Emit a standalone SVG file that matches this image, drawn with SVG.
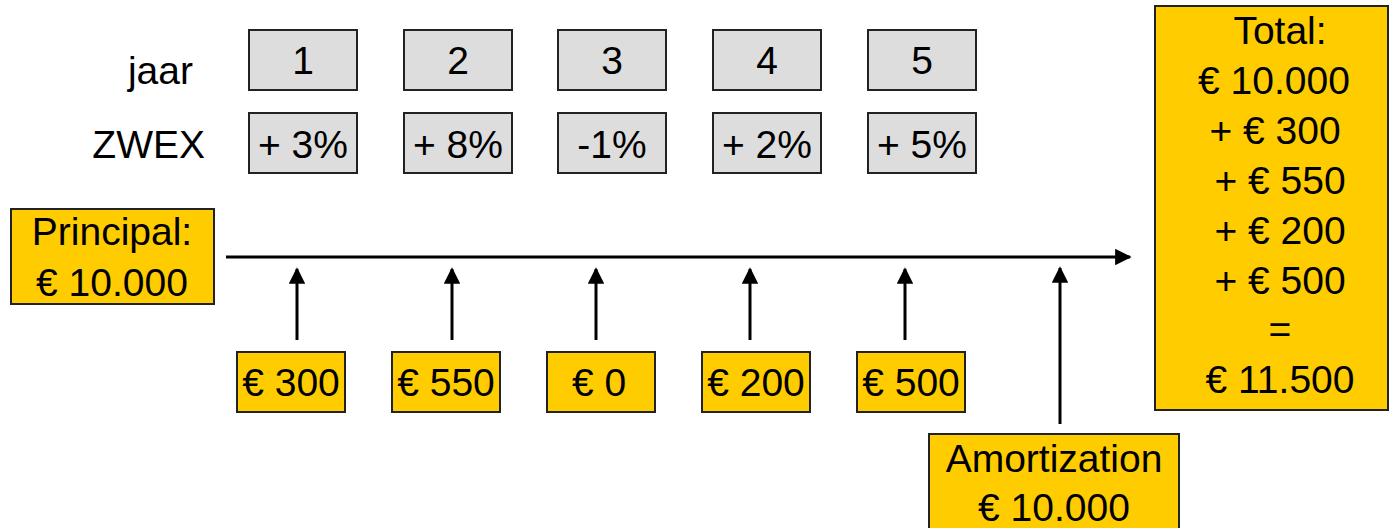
<svg xmlns="http://www.w3.org/2000/svg" width="1389" height="528" viewBox="0 0 1389 528">
<style>
text{font-family:"Liberation Sans",Arial,sans-serif;font-size:39px;fill:#000;text-anchor:middle}
.g{fill:#dddddd;stroke:#222;stroke-width:2}
.y{fill:#ffcc00;stroke:#222;stroke-width:2}
.c{stroke:#000;stroke-width:3;fill:none}
.lbl{text-anchor:end}
</style>
<defs>
<marker id="ah" viewBox="0 0 10 10" refX="9" refY="5" markerWidth="5.5" markerHeight="5.5" orient="auto">
<path d="M0,0 L10,5 L0,10 z" fill="#000"/>
</marker>
</defs>
<rect width="1389" height="528" fill="#fff"/>
<g id="labels">
<text class="lbl" x="193" y="84">jaar</text>
<text class="lbl" x="205" y="158">ZWEX</text>
</g>
<g id="year1"><rect class="g" x="249" y="30" width="108" height="60"/><text x="303" y="74">1</text></g>
<g id="year2"><rect class="g" x="404" y="30" width="108" height="60"/><text x="458" y="74">2</text></g>
<g id="year3"><rect class="g" x="558" y="30" width="108" height="60"/><text x="612" y="74">3</text></g>
<g id="year4"><rect class="g" x="713" y="30" width="108" height="60"/><text x="767" y="74">4</text></g>
<g id="year5"><rect class="g" x="868" y="30" width="108" height="60"/><text x="922" y="74">5</text></g>
<g id="zwex1"><rect class="g" x="249" y="113" width="108" height="60"/><text x="303" y="158">+ 3%</text></g>
<g id="zwex2"><rect class="g" x="404" y="113" width="108" height="60"/><text x="458" y="158">+ 8%</text></g>
<g id="zwex3"><rect class="g" x="558" y="113" width="108" height="60"/><text x="612" y="158">-1%</text></g>
<g id="zwex4"><rect class="g" x="713" y="113" width="108" height="60"/><text x="767" y="158">+ 2%</text></g>
<g id="zwex5"><rect class="g" x="868" y="113" width="108" height="60"/><text x="922" y="158">+ 5%</text></g>
<g id="principal"><rect class="y" x="11" y="209" width="203" height="95"/><text x="112" y="245">Principal:</text><text x="112" y="296">€ 10.000</text></g>
<g id="coupon1"><rect class="y" x="237" y="352" width="108" height="60"/><text x="291" y="396">€ 300</text></g>
<g id="coupon2"><rect class="y" x="392" y="352" width="108" height="60"/><text x="446" y="396">€ 550</text></g>
<g id="coupon3"><rect class="y" x="547" y="352" width="108" height="60"/><text x="599" y="396">€ 0</text></g>
<g id="coupon4"><rect class="y" x="702" y="352" width="108" height="60"/><text x="756" y="396">€ 200</text></g>
<g id="coupon5"><rect class="y" x="857" y="352" width="108" height="60"/><text x="911" y="396">€ 500</text></g>
<g id="amortization"><rect class="y" x="929" y="434" width="250" height="100"/><text x="1054" y="472">Amortization</text><text x="1054" y="521">€ 10.000</text></g>
<g id="total"><rect class="y" x="1155" y="6" width="233" height="404"/>
<text x="1280" y="44">Total:</text>
<text x="1274" y="94">€ 10.000</text>
<text x="1275" y="144">+ € 300</text>
<text x="1280" y="194">+ € 550</text>
<text x="1280" y="244">+ € 200</text>
<text x="1280" y="294">+ € 500</text>
<text x="1280" y="343">=</text>
<text x="1280" y="393">€  11.500</text>
</g>
<g id="connectors">
<line class="c" x1="226" y1="257" x2="1130" y2="257" marker-end="url(#ah)"/>
<line class="c" x1="297" y1="340" x2="297" y2="269" marker-end="url(#ah)"/>
<line class="c" x1="452" y1="340" x2="452" y2="269" marker-end="url(#ah)"/>
<line class="c" x1="596" y1="340" x2="596" y2="269" marker-end="url(#ah)"/>
<line class="c" x1="750" y1="340" x2="750" y2="269" marker-end="url(#ah)"/>
<line class="c" x1="905" y1="340" x2="905" y2="269" marker-end="url(#ah)"/>
<line class="c" x1="1060" y1="424" x2="1060" y2="268" marker-end="url(#ah)"/>
</g>
</svg>
